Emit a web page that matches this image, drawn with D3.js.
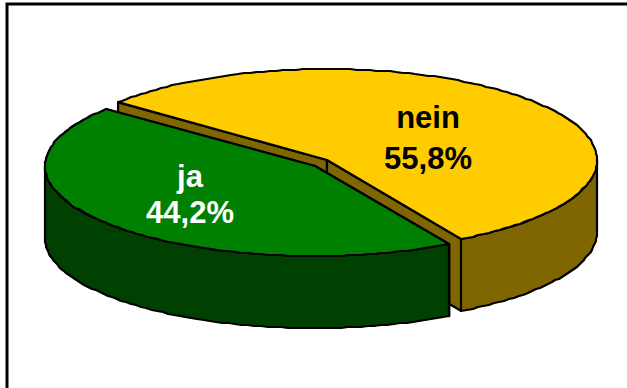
<!DOCTYPE html>
<html><head><meta charset="utf-8">
<script src="https://cdn.jsdelivr.net/npm/d3@7"></script>
<style>html,body{margin:0;padding:0;background:#fff}svg{display:block}text{font-family:"Liberation Sans",Arial,sans-serif;font-weight:bold;font-size:31px;text-anchor:middle}</style>
</head><body><script>
const categories = ["nein", "ja"];
const shares = [55.8, 44.2];
const shareLabels = ["55,8%", "44,2%"];
const topColors = ["#FFCC00", "#008000"];
const sideColors = ["#806600", "#004000"];
const labelColors = ["#000000", "#FFFFFF"];
const firstAngleDeg = -50.7;

const W = 627, H = 388;
const rx = 270, depth = 72;
const radiiY = [91, 90];
const centers = [[327, 160], [315, 166]];
const labelPos = [[428, 128, 169], [190, 187, 223]];

const svg = d3.select("body").append("svg").attr("width", W).attr("height", H);
svg.append("path").attr("d", `M7,${H}V4H${W}`).attr("fill", "none").attr("stroke", "#000").attr("stroke-width", 3);

const start = firstAngleDeg * Math.PI / 180;
const slices = d3.pie().sort(null).startAngle(start).endAngle(start + 2 * Math.PI)(shares);

const sx = d3.scaleLinear().domain([-1, 1]).range([-rx, rx]);
const line = d3.line();
const stroke = s => s.attr("stroke", "#000").attr("stroke-width", 2.2).attr("stroke-linejoin", "round");

slices.forEach((s, i) => {
  const c = centers[i];
  const sy = d3.scaleLinear().domain([-1, 1]).range([-radiiY[i], radiiY[i]]);
  const px = a => c[0] + sx(Math.sin(a));
  const py = (a, dz = 0) => c[1] + sy(-Math.cos(a)) + dz;
  // Outline is sampled and snapped to whole pixels, as in the slightly stepped original
  const arcPts = (a0, a1, dz) => {
    const n = Math.max(2, Math.ceil(Math.abs(a1 - a0) / 0.025));
    return d3.range(n + 1).map(k => {
      const a = a0 + (a1 - a0) * k / n;
      return [Math.round(px(a)), Math.round(py(a, dz))];
    });
  };
  const g = svg.append("g").attr("class", "slice-" + categories[i]);
  const apex = [c[0], c[1]];
  const ax = [px(s.startAngle), py(s.startAngle)];
  const bx = [px(s.endAngle), py(s.endAngle)];
  const down = p => [p[0], p[1] + depth];
  // radial cut faces
  [[ax, apex], [apex, bx]].forEach(([p, q]) => {
    g.append("path").attr("d", line([p, q, down(q), down(p)]) + "Z")
      .attr("fill", sideColors[i]).call(stroke);
  });
  // outer wall: the part of the rim facing the viewer
  const lo = Math.max(s.startAngle, Math.PI / 2), hi = Math.min(s.endAngle, 3 * Math.PI / 2);
  if (hi > lo) {
    const wall = arcPts(lo, hi, 0).concat(arcPts(hi, lo, depth));
    g.append("path").attr("d", line(wall) + "Z").attr("fill", sideColors[i]).call(stroke);
  }
  // top face
  const top = [apex].concat(arcPts(s.startAngle, s.endAngle, 0));
  g.append("path").attr("d", line(top) + "Z").attr("fill", topColors[i]).call(stroke);
  const [lx, y1, y2] = labelPos[i];
  g.append("text").attr("x", lx).attr("y", y1).attr("fill", labelColors[i]).text(categories[i]);
  g.append("text").attr("x", lx).attr("y", y2).attr("fill", labelColors[i]).text(shareLabels[i]);
});
</script></body></html>
